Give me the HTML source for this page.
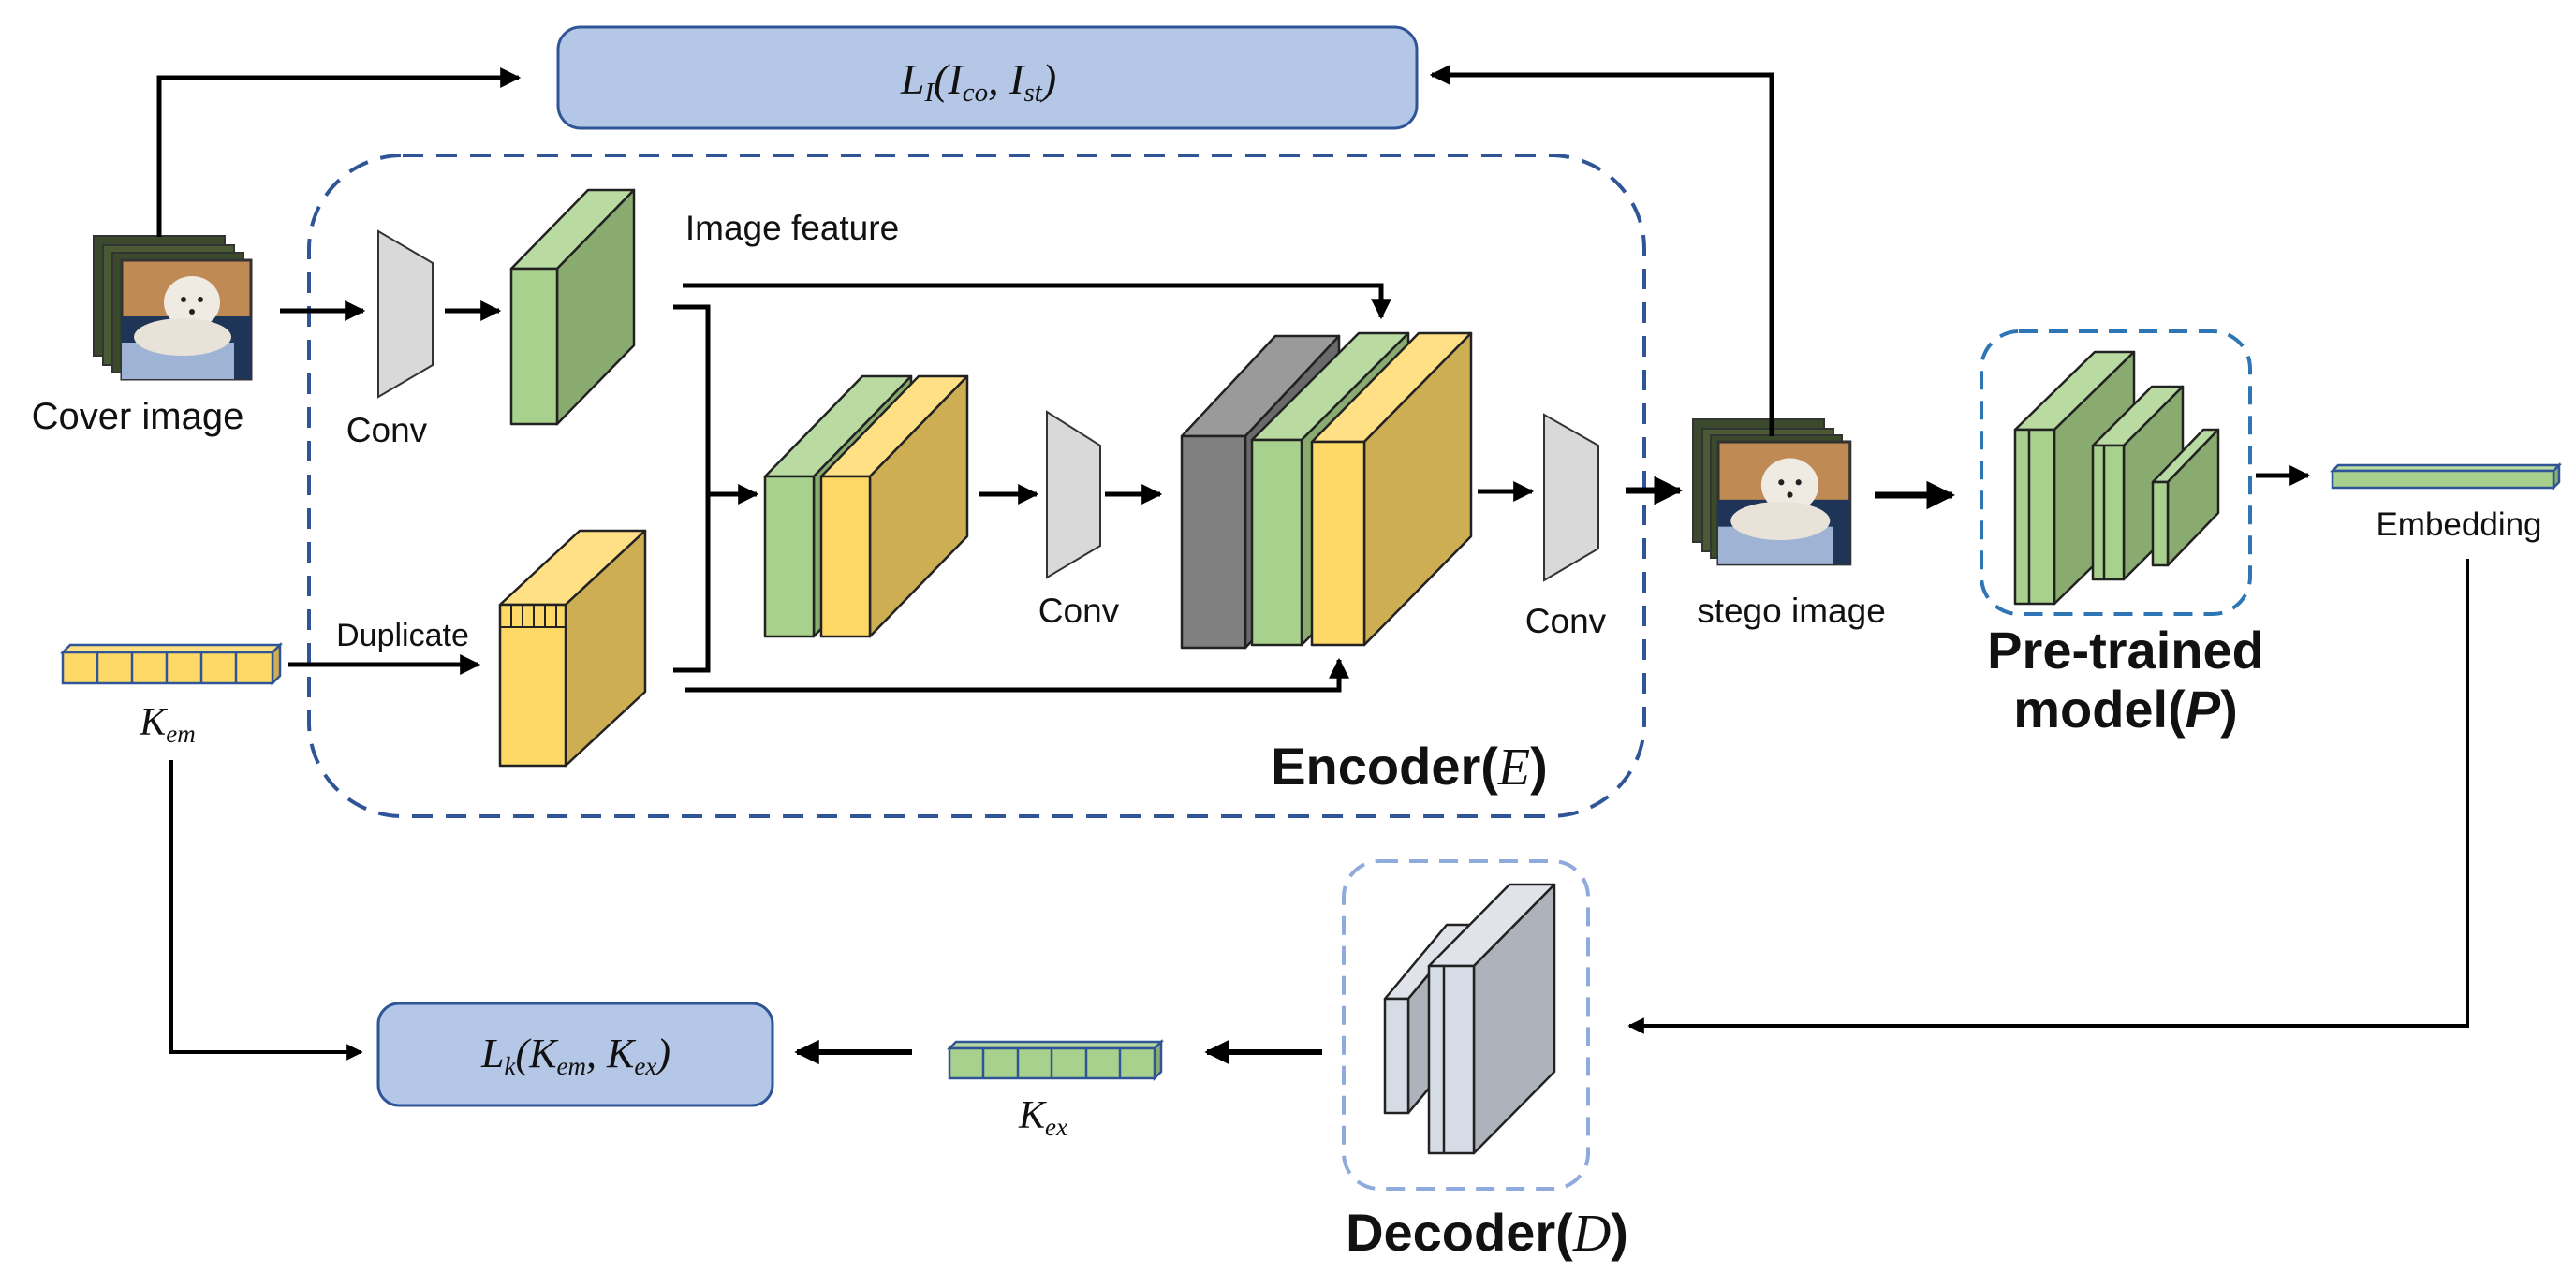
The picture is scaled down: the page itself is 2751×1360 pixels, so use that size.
<!DOCTYPE html>
<html><head><meta charset="utf-8"><style>
html,body{margin:0;padding:0;background:#fff;}
svg{display:block;}
.t{font-family:"Liberation Sans",sans-serif;fill:#111;}
.m{font-family:"Liberation Serif",serif;font-style:italic;fill:#111;}
</style></head><body>
<svg width="2751" height="1360" viewBox="0 0 2751 1360" xmlns="http://www.w3.org/2000/svg">
<defs>
<marker id="a" viewBox="0 0 10 10" refX="9" refY="5" markerWidth="4.4" markerHeight="4.4" orient="auto" markerUnits="strokeWidth"><path d="M0,0 L10,5 L0,10 z" fill="#000"/></marker>
<g id="pic">
  <rect x="0" y="0" width="138" height="127" fill="#c08a55" stroke="#333" stroke-width="3"/>
  <rect x="0" y="60" width="138" height="67" fill="#1f3557"/>
  <rect x="0" y="88" width="120" height="39" fill="#9fb4d4"/>
  <ellipse cx="75" cy="45" rx="30" ry="28" fill="#efeae2"/>
  <ellipse cx="65" cy="82" rx="52" ry="20" fill="#e8e2d8"/>
  <circle cx="66" cy="42" r="3" fill="#222"/><circle cx="84" cy="42" r="3" fill="#222"/><circle cx="75" cy="55" r="3" fill="#222"/>
</g>
</defs>

<rect x="596" y="29" width="917" height="108" rx="24" fill="#b4c7e7" stroke="#2f5597" stroke-width="3"/>
<text x="1045" y="100" class="m" font-size="46" text-anchor="middle">L<tspan font-size="29" dy="8">I</tspan><tspan dy="-8">(I</tspan><tspan font-size="29" dy="8">co</tspan><tspan dy="-8">, I</tspan><tspan font-size="29" dy="8">st</tspan><tspan dy="-8">)</tspan></text>

<rect x="330" y="166" width="1426" height="706" rx="100" fill="none" stroke="#2f5597" stroke-width="4" stroke-dasharray="22,14"/>
<rect x="2116" y="354" width="287" height="302" rx="40" fill="none" stroke="#2e75b6" stroke-width="4" stroke-dasharray="20,12"/>
<rect x="1435" y="920" width="261" height="350" rx="38" fill="none" stroke="#8faadc" stroke-width="4" stroke-dasharray="20,12"/>

<rect x="100" y="252" width="140" height="128" fill="#3b4a2c" stroke="#333" stroke-width="2"/>
<rect x="110" y="262" width="140" height="128" fill="#4a5a35" stroke="#333" stroke-width="2"/>
<rect x="120" y="270" width="140" height="128" fill="#3a4a2a" stroke="#333" stroke-width="2"/>
<use href="#pic" x="130" y="278"/>
<text x="147" y="458" class="t" font-size="40" text-anchor="middle">Cover image</text>

<rect x="1808" y="448" width="140" height="131" fill="#3b4a2c" stroke="#333" stroke-width="2"/>
<rect x="1818" y="458" width="140" height="131" fill="#4a5a35" stroke="#333" stroke-width="2"/>
<rect x="1827" y="465" width="140" height="131" fill="#3a4a2a" stroke="#333" stroke-width="2"/>
<g transform="translate(1835,472) scale(1.02,1.03)"><use href="#pic"/></g>
<text x="1913" y="665" class="t" font-size="37" text-anchor="middle">stego image</text>

<g fill="none" stroke="#000" stroke-width="5">
<polyline points="170,253 170,83 554,83" marker-end="url(#a)"/>
<polyline points="1892,466 1892,80 1529,80" marker-end="url(#a)"/>
<line x1="299" y1="332" x2="388" y2="332" marker-end="url(#a)"/>
<line x1="475" y1="332" x2="533" y2="332" marker-end="url(#a)"/>
<polyline points="729,305 1475,305 1475,339" marker-end="url(#a)"/>
<polyline points="719,328 756,328 756,716 719,716"/>
<line x1="756" y1="528" x2="808" y2="528" marker-end="url(#a)"/>
<polyline points="732,737 1430,737 1430,705" marker-end="url(#a)"/>
<line x1="1046" y1="528" x2="1107" y2="528" marker-end="url(#a)"/>
<line x1="1180" y1="528" x2="1239" y2="528" marker-end="url(#a)"/>
<line x1="1578" y1="525" x2="1636" y2="525" marker-end="url(#a)"/>
<line x1="1736" y1="524" x2="1794" y2="524" stroke-width="7" marker-end="url(#a)"/>
<line x1="2002" y1="529" x2="2085" y2="529" stroke-width="7" marker-end="url(#a)"/>
<line x1="2409" y1="508" x2="2465" y2="508" marker-end="url(#a)"/>
<line x1="308" y1="710" x2="511" y2="710" marker-end="url(#a)"/>
<polyline points="183,812 183,1124 386,1124" stroke-width="4" marker-end="url(#a)"/>
<polyline points="2635,597 2635,1096 1740,1096" stroke-width="4" marker-end="url(#a)"/>
<line x1="974" y1="1124" x2="851" y2="1124" stroke-width="6" marker-end="url(#a)"/>
<line x1="1412" y1="1124" x2="1289" y2="1124" stroke-width="6" marker-end="url(#a)"/>
</g>

<g fill="#d9d9d9" stroke="#333" stroke-width="2">
<polygon points="404,247 462,281 462,390 404,424"/>
<polygon points="1118,440 1175,476 1175,583 1118,617"/>
<polygon points="1649,443 1707,476 1707,586 1649,620"/>
</g>
<g class="t" font-size="37" text-anchor="middle">
<text x="413" y="472">Conv</text>
<text x="1152" y="665">Conv</text>
<text x="1672" y="676">Conv</text>
<text x="846" y="256">Image feature</text>
<text x="430" y="690" font-size="34">Duplicate</text>
<text x="2626" y="572" font-size="35">Embedding</text>
</g>

<g stroke="#222" stroke-width="2.5" stroke-linejoin="round">
<polygon points="546,287 628,203 677,203 595,287" fill="#b9dba1"/>
<polygon points="595,287 677,203 677,369 595,453" fill="#8aab6f"/>
<rect x="546" y="287" width="49" height="166" fill="#a9d18e"/>
<polygon points="817,509 921,402 973,402 869,509" fill="#b9dba1"/>
<polygon points="869,509 973,402 973,573 869,680" fill="#8aab6f"/>
<rect x="817" y="509" width="52" height="171" fill="#a9d18e"/>
<polygon points="877,509 981,402 1033,402 929,509" fill="#ffe085"/>
<polygon points="929,509 1033,402 1033,573 929,680" fill="#cdae52"/>
<rect x="877" y="509" width="52" height="171" fill="#ffd966"/>
<polygon points="1262,466 1362,359 1430,359 1330,466" fill="#9a9a9a"/>
<polygon points="1330,466 1430,359 1430,585 1330,692" fill="#6a6a6a"/>
<rect x="1262" y="466" width="68" height="226" fill="#808080"/>
<polygon points="1337,470 1451,356 1504,356 1390,470" fill="#b9dba1"/>
<polygon points="1390,470 1504,356 1504,575 1390,689" fill="#8aab6f"/>
<rect x="1337" y="470" width="53" height="219" fill="#a9d18e"/>
<polygon points="1401,472 1515,356 1571,356 1457,472" fill="#ffe085"/>
<polygon points="1457,472 1571,356 1571,573 1457,689" fill="#cdae52"/>
<rect x="1401" y="472" width="56" height="217" fill="#ffd966"/>
<polygon points="534,646 619,567 689,567 604,646" fill="#ffe085"/>
<polygon points="604,646 689,567 689,739 604,818" fill="#cdae52"/>
<rect x="534" y="646" width="70" height="172" fill="#ffd966"/>
<polygon points="2152,459 2237,376 2279,376 2194,459" fill="#b9dba1"/>
<polygon points="2194,459 2279,376 2279,562 2194,645" fill="#8aab6f"/>
<rect x="2152" y="459" width="42" height="186" fill="#a9d18e"/>
<line x1="2167" y1="459" x2="2167" y2="645"/>
<polygon points="2235,476 2298,413 2331,413 2268,476" fill="#b9dba1"/>
<polygon points="2268,476 2331,413 2331,556 2268,619" fill="#8aab6f"/>
<rect x="2235" y="476" width="33" height="143" fill="#a9d18e"/>
<line x1="2247" y1="476" x2="2247" y2="619"/>
<polygon points="2299,515 2353,459 2369,459 2315,515" fill="#b9dba1"/>
<polygon points="2315,515 2369,459 2369,548 2315,604" fill="#8aab6f"/>
<rect x="2299" y="515" width="16" height="89" fill="#a9d18e"/>
<polygon points="1479,1067 1545,988 1570,988 1504,1067" fill="#e0e4ea"/>
<polygon points="1504,1067 1570,988 1570,1110 1504,1189" fill="#adb2bb"/>
<rect x="1479" y="1067" width="25" height="122" fill="#d6dce5"/>
<polygon points="1526,1032 1612,945 1660,945 1574,1032" fill="#e0e4ea"/>
<polygon points="1574,1032 1660,945 1660,1145 1574,1232" fill="#adb2bb"/>
<rect x="1526" y="1032" width="48" height="200" fill="#d6dce5"/>
<line x1="1542" y1="1032" x2="1542" y2="1232"/>
</g>
<g stroke="#222" stroke-width="2">
<line x1="534" y1="670" x2="604" y2="670"/>
<line x1="546" y1="646" x2="546" y2="670"/><line x1="558" y1="646" x2="558" y2="670"/><line x1="570" y1="646" x2="570" y2="670"/><line x1="582" y1="646" x2="582" y2="670"/><line x1="594" y1="646" x2="594" y2="670"/>
</g>

<g stroke="#2f5597" stroke-width="2.5">
<polygon points="67,697 75,689 299,689 291,697" fill="#ffe085"/>
<polygon points="291,697 299,689 299,722 291,730" fill="#cdae52"/>
<rect x="67" y="697" width="224" height="33" fill="#ffd966"/>
<line x1="104" y1="697" x2="104" y2="730"/><line x1="141" y1="697" x2="141" y2="730"/><line x1="178" y1="697" x2="178" y2="730"/><line x1="215" y1="697" x2="215" y2="730"/><line x1="252" y1="697" x2="252" y2="730"/>
</g>
<text x="179" y="785" class="m" font-size="42" text-anchor="middle">K<tspan font-size="27" dy="8">em</tspan></text>

<g stroke="#2f5597" stroke-width="2.5">
<polygon points="1014,1120 1021,1113 1240,1113 1233,1120" fill="#b9dba1"/>
<polygon points="1233,1120 1240,1113 1240,1145 1233,1152" fill="#8aab6f"/>
<rect x="1014" y="1120" width="219" height="32" fill="#a9d18e"/>
<line x1="1050" y1="1120" x2="1050" y2="1152"/><line x1="1087" y1="1120" x2="1087" y2="1152"/><line x1="1123" y1="1120" x2="1123" y2="1152"/><line x1="1160" y1="1120" x2="1160" y2="1152"/><line x1="1196" y1="1120" x2="1196" y2="1152"/>
</g>
<text x="1114" y="1205" class="m" font-size="42" text-anchor="middle">K<tspan font-size="27" dy="8">ex</tspan></text>

<g stroke="#2f5597" stroke-width="2.5">
<polygon points="2491,503 2497,497 2733,497 2727,503" fill="#b9dba1"/>
<polygon points="2727,503 2733,497 2733,515 2727,521" fill="#8aab6f"/>
<rect x="2491" y="503" width="236" height="18" fill="#a9d18e"/>
</g>

<rect x="404" y="1072" width="421" height="109" rx="22" fill="#b4c7e7" stroke="#2f5597" stroke-width="3"/>
<text x="615" y="1140" class="m" font-size="44" text-anchor="middle">L<tspan font-size="27" dy="8">k</tspan><tspan dy="-8">(K</tspan><tspan font-size="27" dy="8">em</tspan><tspan dy="-8">, K</tspan><tspan font-size="27" dy="8">ex</tspan><tspan dy="-8">)</tspan></text>

<g class="t" font-weight="bold" font-size="56" text-anchor="middle">
<text x="1505" y="838">Encoder(<tspan class="m" font-weight="normal">E</tspan>)</text>
<text x="2270" y="714">Pre-trained</text>
<text x="2270" y="777">model(<tspan font-style="italic">P</tspan>)</text>
<text x="1588" y="1336">Decoder(<tspan class="m" font-weight="normal">D</tspan>)</text>
</g>
</svg>
</body></html>
